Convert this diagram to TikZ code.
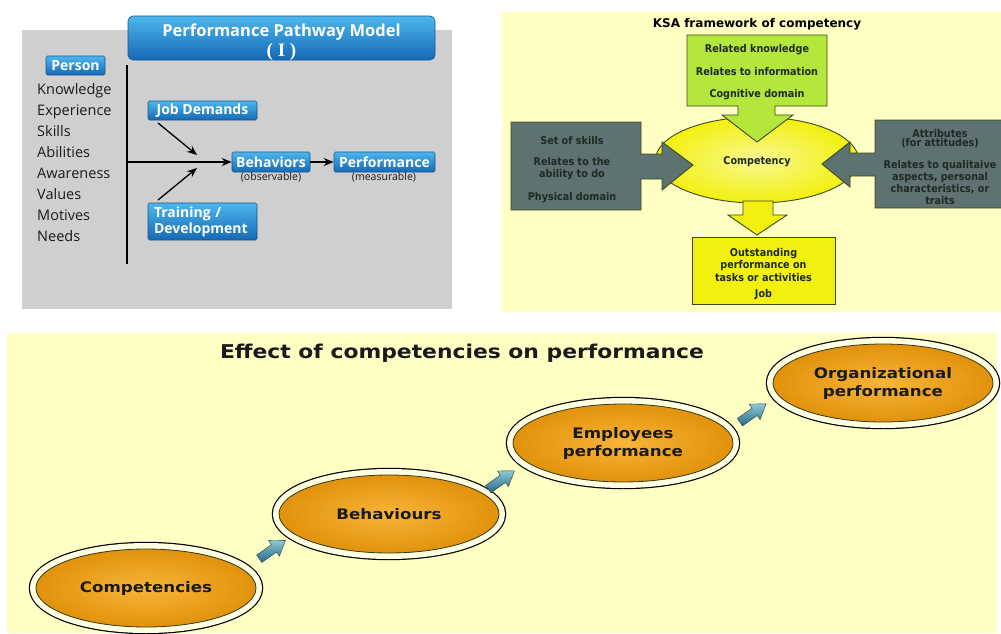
\documentclass[tikz,border=0pt]{standalone}
\usepackage{fontspec}
\setmainfont{DejaVu Sans}
\newfontfamily\osans{Open Sans}
\newfontfamily\lser{Liberation Serif}
\newfontfamily\ksafont[FakeStretch=0.9]{DejaVu Sans}
\newfontfamily\widefont[FakeStretch=1.15]{DejaVu Sans}
\usetikzlibrary{arrows.meta,shapes.geometric,calc}

\definecolor{pgray}{HTML}{CFCFCF}
\definecolor{bluetop}{HTML}{4DB6EC}
\definecolor{bluebot}{HTML}{1569B5}
\definecolor{blueedge}{HTML}{15568C}
\definecolor{paleyel}{HTML}{FFFFC4}
\definecolor{ksagreen}{HTML}{B5E63C}
\definecolor{ksagray}{HTML}{5E7271}
\definecolor{ksayel}{HTML}{F2F00E}
\definecolor{olivec}{HTML}{3F4A1E}
\definecolor{ksatext}{HTML}{1E2A22}
\definecolor{orgin}{HTML}{F7B538}
\definecolor{orgout}{HTML}{E2920C}
\definecolor{ringpale}{HTML}{FFFFE2}
\definecolor{teald}{HTML}{2A6688}
\definecolor{teall}{HTML}{8CCAD2}
\definecolor{listtxt}{HTML}{1A1A1A}

\begin{document}
\begin{tikzpicture}[x=1pt,y=-1pt,
  bluebox/.style={rectangle, rounded corners=1.5pt, draw=blueedge, line width=0.6pt,
    top color=bluetop, bottom color=bluebot, text=white,
    font=\osans\bfseries\fontsize{14}{16}\selectfont, inner sep=0pt},
  listtext/.style={align=left, inner sep=0pt, text=listtxt,
    font=\osans\fontsize{14.5}{21}\selectfont},
  smalllabel/.style={inner sep=0pt, text=listtxt, font=\osans\fontsize{10.5}{12}\selectfont},
  arr/.style={-{Stealth[length=10pt,width=8pt]}, line width=1.3pt, black},
  ksatxt/.style={align=center, inner sep=0pt, text=ksatext,
    font=\ksafont\bfseries\fontsize{10.7}{12}\selectfont},
  blockshape/.style={draw=olivec, line width=0.9pt, line join=miter},
  orb/.style={ellipse, minimum width=220pt, minimum height=78pt, inner sep=0pt,
    preaction={draw=black, line width=14.4pt},
    preaction={draw=ringpale, line width=12pt},
    inner color=orgin, outer color=orgout, draw=olivec!80!black, line width=0.8pt,
    align=center, text=listtxt, font=\widefont\bfseries\fontsize{14.5}{18}\selectfont},
  stepper/.style={top color=teall, bottom color=teald, draw=teald!60!black, line width=0.4pt,
    line join=miter}
]
\useasboundingbox (0,0) rectangle (1001,633);
\fill[white] (0,0) rectangle (1001,633);

% ---------------- Panel 1 : Performance Pathway Model
\fill[pgray] (22,30) rectangle (452,309);
\node[bluebox, rounded corners=5pt, minimum width=307pt, minimum height=44pt] (title1) at (281.5,38) {};
\node[inner sep=0pt, align=center, text=white,
  font=\osans\bfseries\fontsize{16.5}{21}\selectfont] (title1txt) at (281.5,42.5)
  {Performance Pathway Model\\[-1pt]{\lser\bfseries\fontsize{19}{20}\selectfont ( I )}};
\node[bluebox, minimum width=59pt, minimum height=19pt] (person) at (75.5,65.5) {Person};
\node[listtext, anchor=west] (attrs) at (37,162.5)
  {Knowledge\\Experience\\Skills\\Abilities\\Awareness\\Values\\Motives\\Needs};
\coordinate (vt) at (127,65);
\coordinate (vb) at (127,264);
\coordinate (vm) at (127,162);
\draw[line width=2.4pt] (vt) -- (vb);
\node[bluebox, minimum width=109pt, minimum height=19pt] (jd) at (202.5,110.5) {Job Demands};
\node[bluebox, minimum width=109pt, minimum height=37pt, align=left, text width=97pt] (td)
  at (202.5,221.5) {Training /\\Development};
\node[bluebox, minimum width=78pt, minimum height=20pt] (beh) at (271,162) {Behaviors};
\node[bluebox, minimum width=101pt, minimum height=20pt] (perf) at (384.5,162) {Performance};
\node[smalllabel] (obs) at (271,177.5) {(observable)};
\node[smalllabel] (meas) at (384,177.5) {(measurable)};
\coordinate (jdtail) at (158,123);
\coordinate (jdtip) at (197,155);
\coordinate (tdtail) at (158,200);
\coordinate (tdtip) at (197,168);
\draw[arr] (vm) -- (beh.west);
\draw[arr] (jdtail) -- (jdtip);
\draw[arr] (tdtail) -- (tdtip);
\draw[arr] (beh.east) -- (perf.west);

% ---------------- Panel 2 : KSA framework
\fill[paleyel] (502,12) rectangle (1001,312);
\node[inner sep=0pt, text=black, font=\bfseries\fontsize{12}{14}\selectfont] (ksatitle) at (757,24)
  {KSA framework of competency};
\node[ellipse, minimum width=203pt, minimum height=86pt, inner sep=0pt, draw=olivec, line width=0.9pt,
  inner color=ksayel!45!white, outer color=ksayel, ksatxt] (compet) at (757,160) {};
% green (knowledge) block arrow
\path[blockshape, fill=ksagreen] (687,35) -- (827,35) -- (827,106) -- (775,106) -- (775,115)
  -- (793,115) -- (757,142) -- (722,115) -- (738,115) -- (738,106) -- (687,106) -- cycle;
% left (skills) block arrow
\path[blockshape, fill=ksagray] (511,122) -- (641,122) -- (641,154) -- (662,154) -- (662,142)
  -- (693,165) -- (662,190) -- (662,179) -- (641,179) -- (641,210) -- (511,210) -- cycle;
% right (attributes) block arrow
\path[blockshape, fill=ksagray] (1003,120) -- (875,120) -- (875,153) -- (850,153) -- (850,142)
  -- (822,164) -- (850,187) -- (850,176) -- (875,176) -- (875,208) -- (1003,208) -- cycle;
% down arrow
\path[blockshape, fill=ksayel] (743,201) -- (773,201) -- (773,215) -- (787,215) -- (757,235)
  -- (728,215) -- (743,215) -- cycle;
\node[ksatxt] at (757,162) {Competency};
\node[ksatxt, font=\ksafont\bfseries\fontsize{10.7}{22.5}\selectfont] (know) at (757,72.5)
  {Related knowledge\\Relates to information\\Cognitive domain};
\node[ksatxt] (skills) at (572,170)
  {Set of skills\\[9pt]Relates to the\\ability to do\\[11pt]Physical domain};
\node[ksatxt] (attr) at (940,167)
  {Attributes\\[-3pt](for attitudes)\\[10pt]Relates to qualitaive\\aspects, personal\\characteristics, or\\traits};
\node[rectangle, draw=olivec, line width=0.9pt, fill=ksayel, minimum width=143pt, minimum height=67pt]
  (outst) at (763.5,270.5) {};
\node[ksatxt, font=\ksafont\bfseries\fontsize{10.7}{12.5}\selectfont] (outsttxt) at (763.5,273.5)
  {Outstanding\\performance on\\tasks or activities\\[3.5pt]Job};

% ---------------- Panel 3 : Effect of competencies
\fill[paleyel] (7,333) rectangle (997,633);
\node[inner sep=0pt, text=listtxt, font=\widefont\bfseries\fontsize{19}{22}\selectfont] (efftitle) at (462,353)
  {Effect of competencies on performance};
\node[orb] (c1) at (146,588) {Competencies};
\node[orb] (c2) at (389,514) {Behaviours};
\node[orb] (c3) at (623,443) {Employees\\performance};
\node[orb] (c4) at (883,383) {Organizational\\performance};
\coordinate (s1) at ($(c1.center)!0.52!(c2.center)$);
\coordinate (s2) at ($(c2.center)!0.48!(c3.center)$);
\coordinate (s3) at ($(c3.center)!0.5!(c4.center)$);
\foreach \s in {s1,s2,s3}{
  \path[stepper, shift={(\s)}, rotate=35]
    (-16,-4.5) -- (2,-4.5) -- (2,-9.5) -- (16,0) -- (2,9.5) -- (2,4.5) -- (-16,4.5) -- cycle;
}
\end{tikzpicture}
\end{document}
